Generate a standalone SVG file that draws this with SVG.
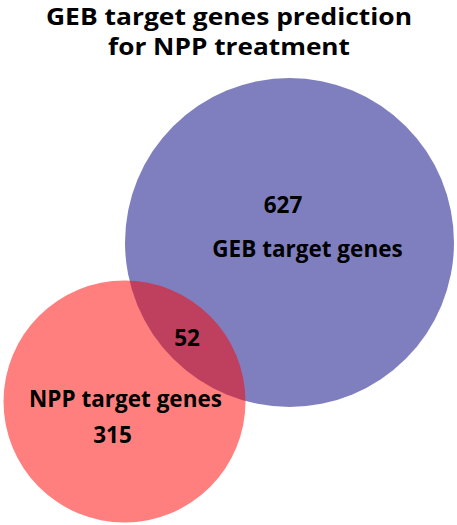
<svg xmlns="http://www.w3.org/2000/svg" width="457" height="525" viewBox="0 0 457 525">
<style>
text{font-family:"Open Sans","Noto Sans","Liberation Sans",sans-serif;font-weight:bold;fill:#000;text-anchor:middle}
.title{font-size:22.5px}
.lbl{font-size:22.5px}
</style>
<rect width="457" height="525" fill="#fff"/>
<g id="title">
<text class="title" x="229" y="24.5" textLength="366" lengthAdjust="spacingAndGlyphs">GEB target genes prediction</text>
<text class="title" x="229" y="55" textLength="242" lengthAdjust="spacingAndGlyphs">for NPP treatment</text>
</g>
<g id="geb">
<circle cx="289.5" cy="242.5" r="164.5" fill="#000080" fill-opacity="0.5"/>
</g>
<g id="npp">
<circle cx="124.5" cy="401.5" r="121" fill="#ff0000" fill-opacity="0.5"/>
</g>
<g id="labels">
<text class="lbl" x="283" y="213">627</text>
<text class="lbl" x="307.5" y="257">GEB target genes</text>
<text class="lbl" x="187" y="346">52</text>
<text class="lbl" x="125.5" y="407">NPP target genes</text>
<text class="lbl" x="112.5" y="443">315</text>
</g>
<g id="connectors"></g>
</svg>
